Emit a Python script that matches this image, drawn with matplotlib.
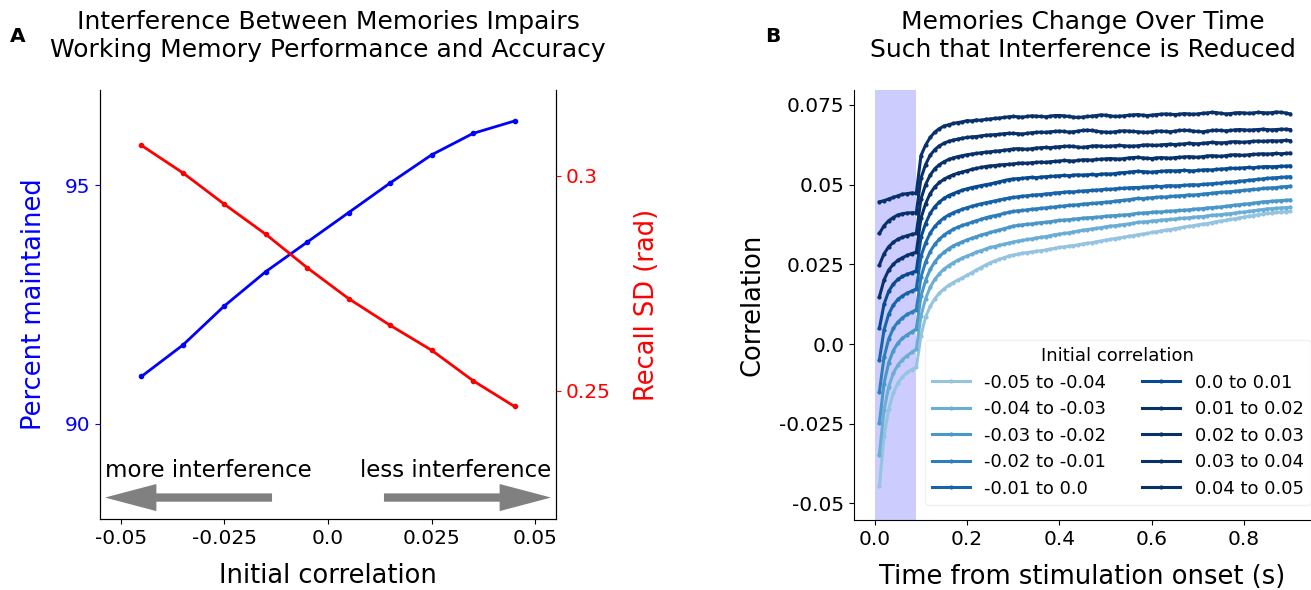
import numpy as np
import matplotlib
matplotlib.use("Agg")
import matplotlib.pyplot as plt

plt.rcParams['font.family'] = ['DejaVu Sans']
plt.rcParams['axes.unicode_minus'] = False

# ---------------- Panel A data ----------------
init_corr = [-0.045, -0.035, -0.025, -0.015, -0.005, 0.005, 0.015, 0.025, 0.035, 0.045]
percent_maintained = [90.99, 91.65, 92.47, 93.19, 93.81, 94.43, 95.05, 95.64, 96.09, 96.35]
recall_sd = [0.3071, 0.3007, 0.2934, 0.2864, 0.2786, 0.2714, 0.2652, 0.2594, 0.2523, 0.2463]

# ---------------- Panel B data ----------------
time_s = [round(0.01 * k, 2) for k in range(1, 91)]
bin_labels = ['-0.05 to -0.04', '-0.04 to -0.03', '-0.03 to -0.02', '-0.02 to -0.01',
              '-0.01 to 0.0', '0.0 to 0.01', '0.01 to 0.02', '0.02 to 0.03',
              '0.03 to 0.04', '0.04 to 0.05']

# correlation values in units of 1e-4
corr_m05 = [-446, -290, -205, -155, -123, -103, -89, -80, -73,
            26, 85, 118, 142, 160, 173, 184, 193, 201, 208, 216, 224, 232, 240, 248, 255,
            261, 266, 271, 276, 279, 282, 285, 287, 289, 291,
            293, 295, 298, 300, 303, 305, 307, 309, 311, 314,
            316, 318, 321, 323, 326, 328, 331, 333, 335, 338,
            340, 343, 345, 347, 350, 352, 355, 357, 359, 362,
            364, 367, 369, 371, 374, 376, 378, 381, 384, 386,
            388, 391, 393, 396, 398, 401, 403, 406, 408, 410,
            411, 413, 414, 415, 416]
corr_m04 = [-347, -208, -135, -92, -66, -49, -36, -26, -16,
            88, 142, 178, 203, 221, 235, 246, 255, 263, 270, 276, 282, 288, 293, 298, 303,
            306, 310, 313, 317, 320, 323, 325, 328, 330, 333,
            335, 337, 340, 343, 345, 347, 349, 352, 354, 357,
            359, 361, 363, 365, 368, 370, 371, 373, 375, 377,
            379, 382, 383, 384, 386, 387, 389, 390, 391, 392,
            394, 395, 396, 398, 399, 400, 402, 404, 405, 406,
            408, 409, 411, 413, 414, 416, 418, 420, 422, 424,
            425, 426, 427, 428, 429]
corr_m03 = [-248, -124, -59, -21, 3, 18, 29, 38, 47,
            150, 199, 234, 258, 275, 288, 299, 308, 315, 321, 327, 332, 337, 342, 346, 350,
            354, 358, 362, 366, 370, 372, 374, 376, 377, 379,
            381, 382, 384, 386, 388, 389, 390, 392, 393, 395,
            396, 397, 398, 399, 401, 402, 403, 404, 405, 406,
            408, 410, 411, 412, 413, 415, 414, 416, 417, 418,
            419, 420, 421, 423, 424, 425, 427, 428, 429, 430,
            432, 434, 436, 437, 439, 440, 442, 444, 446, 447,
            448, 449, 450, 451, 452]
corr_m02 = [-150, -42, 15, 49, 69, 82, 93, 100, 108,
            210, 257, 290, 313, 329, 342, 352, 360, 367, 372, 377, 382, 387, 391, 396, 400,
            403, 406, 410, 413, 416, 418, 419, 421, 423, 424,
            426, 427, 429, 430, 432, 433, 435, 436, 437, 439,
            440, 441, 442, 444, 445, 446, 448, 450, 451, 453,
            455, 457, 456, 458, 459, 460, 462, 461, 463, 464,
            465, 466, 468, 467, 469, 470, 472, 473, 475, 476,
            477, 478, 479, 481, 482, 484, 485, 486, 488, 489,
            490, 491, 493, 494, 495]
corr_m01 = [-50, 44, 93, 122, 140, 151, 160, 166, 173,
            275, 317, 348, 369, 384, 396, 405, 412, 418, 423, 428, 432, 436, 440, 443, 446,
            449, 452, 455, 458, 460, 462, 464, 465, 467, 468,
            469, 471, 472, 474, 475, 476, 478, 477, 479, 480,
            481, 482, 483, 484, 486, 485, 487, 488, 489, 490,
            491, 491, 492, 493, 494, 495, 494, 496, 497, 496,
            497, 498, 499, 500, 499, 501, 502, 503, 504, 505,
            507, 508, 509, 511, 512, 514, 515, 517, 518, 520,
            521, 522, 523, 524, 525]
corr_p00 = [49, 125, 165, 188, 203, 212, 219, 224, 230,
            335, 378, 410, 431, 446, 457, 466, 472, 478, 483, 487, 491, 494, 497, 500, 502,
            506, 509, 513, 516, 518, 519, 520, 522, 523, 522,
            524, 525, 526, 527, 528, 529, 528, 530, 531, 530,
            531, 532, 531, 533, 534, 533, 535, 537, 538, 539,
            541, 542, 541, 540, 539, 541, 542, 543, 544, 543,
            544, 545, 544, 543, 545, 546, 547, 546, 548, 549,
            550, 552, 551, 552, 553, 554, 553, 555, 556, 557,
            556, 557, 558, 558, 559]
corr_p01 = [148, 201, 232, 250, 263, 271, 278, 284, 288,
            395, 440, 472, 493, 507, 517, 525, 531, 536, 540, 544, 548, 551, 554, 557, 559,
            560, 562, 563, 564, 565, 567, 568, 567, 569, 570,
            571, 570, 572, 573, 574, 576, 575, 574, 576, 578,
            578, 577, 579, 580, 581, 582, 581, 580, 582, 584,
            585, 586, 584, 583, 582, 584, 585, 584, 583, 585,
            586, 587, 588, 587, 586, 588, 590, 591, 590, 589,
            591, 593, 594, 593, 592, 594, 595, 596, 597, 596,
            597, 598, 597, 598, 599]
corr_p02 = [248, 283, 305, 319, 329, 335, 340, 344, 347,
            455, 500, 530, 550, 563, 572, 579, 584, 588, 591, 594, 596, 598, 600, 602, 603,
            605, 606, 608, 610, 612, 613, 612, 611, 613, 615,
            616, 617, 616, 618, 619, 620, 621, 620, 618, 617,
            619, 621, 622, 621, 620, 621, 622, 623, 622, 621,
            621, 622, 624, 625, 624, 623, 625, 626, 627, 626,
            627, 628, 630, 629, 628, 630, 631, 633, 632, 631,
            632, 634, 635, 634, 633, 635, 636, 637, 636, 637,
            638, 637, 638, 639, 638]
corr_p03 = [347, 371, 387, 397, 405, 409, 411, 412, 412,
            520, 563, 592, 610, 622, 630, 636, 640, 643, 646, 648, 650, 651, 653, 655, 656,
            657, 658, 660, 661, 661, 660, 659, 661, 663, 664,
            665, 664, 666, 667, 668, 667, 665, 666, 668, 670,
            671, 670, 668, 666, 665, 664, 666, 668, 669, 668,
            667, 666, 665, 664, 666, 668, 668, 667, 666, 668,
            670, 671, 670, 668, 667, 666, 668, 670, 671, 670,
            669, 670, 672, 673, 672, 671, 672, 673, 674, 673,
            672, 673, 674, 674, 673]
corr_p04 = [446, 450, 455, 460, 465, 470, 472, 474, 473,
            591, 624, 648, 665, 676, 684, 688, 692, 695, 697, 701, 700, 703, 702, 705, 706,
            708, 709, 711, 713, 714, 713, 712, 714, 716, 715,
            714, 713, 715, 717, 717, 716, 714, 712, 711, 712,
            714, 715, 717, 719, 718, 716, 714, 715, 716, 718,
            719, 720, 718, 717, 718, 720, 721, 722, 721, 720,
            721, 723, 722, 721, 722, 724, 725, 727, 726, 724,
            722, 723, 725, 726, 725, 724, 725, 727, 726, 725,
            726, 728, 727, 725, 722]

series_b = [corr_m05, corr_m04, corr_m03, corr_m02, corr_m01,
            corr_p00, corr_p01, corr_p02, corr_p03, corr_p04]

TICK = 14.5
LABEL = 18.5
TITLE = 18

# ---------------- Figure ----------------
fig = plt.figure(figsize=(13.11, 5.9), dpi=100)

# Panel A
axA = fig.add_axes([100 / 1311, 71 / 590, 456 / 1311, 429 / 590])
axA.plot(init_corr, percent_maintained, color='blue', marker='.', markersize=6, linewidth=2)
axA.set_xlim(-0.055, 0.055)
axA.set_ylim(88.0, 97.0)
axA.set_yticks([90, 95])
axA.set_yticklabels(['90', '95'])
axA.tick_params(axis='y', colors='blue', labelsize=TICK)
axA.set_xticks([-0.05, -0.025, 0.0, 0.025, 0.05])
axA.set_xticklabels(['-0.05', '-0.025', '0.0', '0.025', '0.05'])
axA.tick_params(axis='x', labelsize=TICK)
axA.set_ylabel('Percent maintained', color='blue', fontsize=LABEL, labelpad=13)
axA.set_xlabel('Initial correlation', fontsize=LABEL, labelpad=11)
axA.spines['top'].set_visible(False)

axA2 = axA.twinx()
axA2.plot(init_corr, recall_sd, color='red', marker='.', markersize=6, linewidth=2)
axA2.set_ylim(0.2201, 0.3200)
axA2.set_yticks([0.25, 0.3])
axA2.set_yticklabels(['0.25', '0.3'])
axA2.tick_params(axis='y', colors='red', labelsize=TICK)
axA2.set_ylabel('Recall SD (rad)', color='red', fontsize=LABEL, labelpad=17)
axA2.spines['top'].set_visible(False)

axA.set_title('Interference Between Memories Impairs\nWorking Memory Performance and Accuracy',
              fontsize=TITLE, pad=24)

arrow_kw = dict(arrowstyle='simple,head_length=3.7,head_width=1.95,tail_width=0.6',
                mutation_scale=10, color='gray', shrinkA=0, shrinkB=0, lw=0)
axA.annotate('', xy=(-0.0538, 88.45), xytext=(-0.0135, 88.45), arrowprops=arrow_kw)
axA.annotate('', xy=(0.0538, 88.45), xytext=(0.0135, 88.45), arrowprops=arrow_kw)
axA.text(-0.0538, 88.89, 'more interference', fontsize=16.5, ha='left', va='baseline')
axA.text(0.0538, 88.89, 'less interference', fontsize=16.5, ha='right', va='baseline')

fig.text(10 / 1311, 1 - 37 / 590, 'A', fontsize=14.5, fontweight='bold', va='center', ha='left')

# Panel B
axB = fig.add_axes([854 / 1311, 70 / 590, 457 / 1311, 430 / 590])
axB.axvspan(0.0, 0.09, color='blue', alpha=0.2, lw=0)
cmap = plt.get_cmap('Blues')
shades = cmap(np.clip(np.linspace(0.4, 1.3, 10), 0, 1))
for vals, lab, c in zip(series_b, bin_labels, shades):
    axB.plot(time_s, np.array(vals) * 1e-4, color=c, marker='.', markersize=4,
             linewidth=2.2, label=lab)
axB.set_xlim(-0.045, 0.945)
axB.set_ylim(-0.0552, 0.0797)
axB.set_xticks([0.0, 0.2, 0.4, 0.6, 0.8])
axB.set_xticklabels(['0.0', '0.2', '0.4', '0.6', '0.8'])
axB.set_yticks([-0.05, -0.025, 0.0, 0.025, 0.05, 0.075])
axB.set_yticklabels(['-0.05', '-0.025', '0.0', '0.025', '0.05', '0.075'])
axB.tick_params(labelsize=TICK)
axB.spines['top'].set_visible(False)
axB.spines['right'].set_visible(False)
axB.set_ylabel('Correlation', fontsize=LABEL, labelpad=10)
axB.set_xlabel('Time from stimulation onset (s)', fontsize=LABEL, labelpad=11)
axB.set_title('Memories Change Over Time\nSuch that Interference is Reduced', fontsize=TITLE, pad=24)
leg = axB.legend(title='Initial correlation', ncol=2, loc='lower right', fontsize=13,
                 title_fontsize=13, frameon=True, bbox_to_anchor=(1.0, 0.035),
                 borderaxespad=0.0, columnspacing=2.0, handlelength=2.1,
                 labelspacing=0.47)
leg.get_frame().set_edgecolor('#eeeeee')

fig.text(765 / 1311, 1 - 37 / 590, 'B', fontsize=14.5, fontweight='bold', va='center', ha='left')

fig.savefig('out.png', dpi=100)
